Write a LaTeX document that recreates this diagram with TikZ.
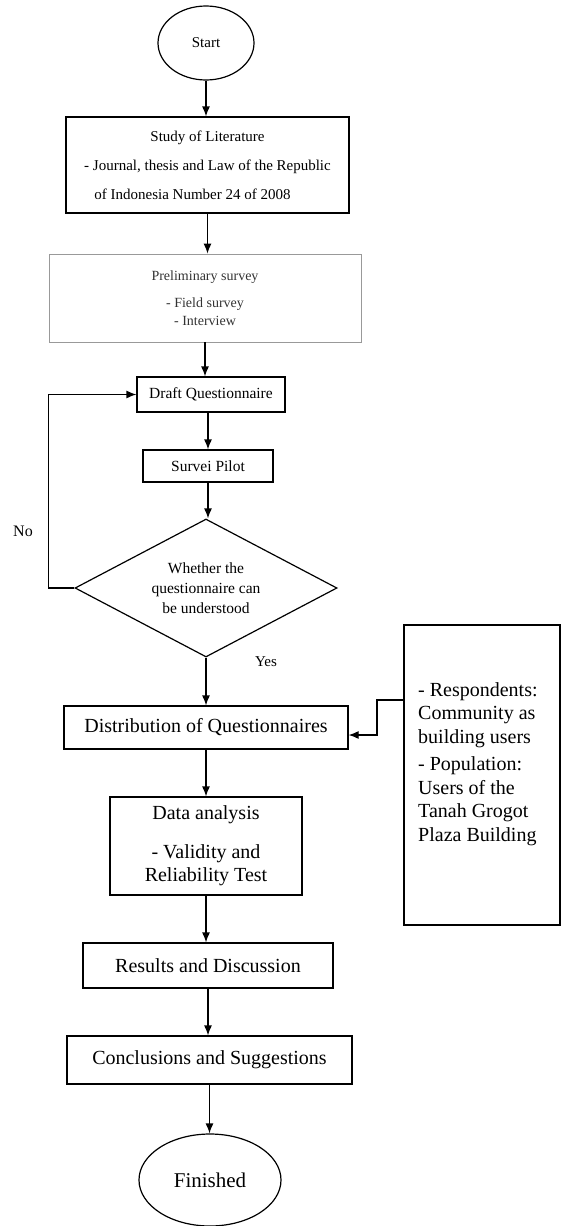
\documentclass[tikz,border=0pt]{standalone}
\usepackage{fontspec}
\setmainfont{Liberation Serif}
\usetikzlibrary{shapes.geometric, arrows.meta}

\begin{document}
\begin{tikzpicture}[x=1pt, y=-1pt,
        box/.style={draw, line width=1.2pt, rectangle, inner sep=0pt, align=center},
        term/.style={draw, line width=1.2pt, ellipse, inner sep=0pt},
        big/.style={font=\fontsize{20}{23.5}\selectfont},
        flow/.style={line width=1.2pt, -{Latex[length=10pt,width=8pt]}}]
        \useasboundingbox (0,0) rectangle (561,1226);

        \node[term, font=\fontsize{15}{18}\selectfont, minimum width=96pt, minimum height=74pt] (start) at (206,43) {Start};
        \node[box, font=\fontsize{15}{29}\selectfont, minimum width=283pt, minimum height=96pt] (study) at (207.5,165) {Study of Literature\\- Journal, thesis and Law of the Republic\\of Indonesia Number 24 of 2008\hspace*{30pt}};
        \node[box, draw=gray!80, line width=0.8pt, text=black!80, font=\fontsize{14}{18}\selectfont, minimum width=312pt, minimum height=88pt] (prelim) at (205,298) {Preliminary survey\\[9pt]- Field survey\\- Interview};
        \node[box, font=\fontsize{15.5}{18}\selectfont, minimum width=148pt, minimum height=35pt] (draft) at (211,394.5) {Draft Questionnaire};
        \node[box, font=\fontsize{15.5}{18}\selectfont, minimum width=130pt, minimum height=32pt] (pilot) at (208,466) {Survei Pilot};
        \node[draw, diamond, line width=1.2pt, aspect=1.9, inner sep=0pt, minimum width=262pt, minimum height=138pt, align=center, font=\fontsize{15.5}{20}\selectfont] (decide) at (206,588) {Whether the\\questionnaire can\\be understood};

        \node[box, big, minimum width=284pt, minimum height=43pt] (dist) at (206,727.5) {Distribution of Questionnaires};
        \node[box, big, minimum width=192pt, minimum height=98pt] (analysis) at (206,846) {Data analysis\\[15pt]- Validity and\\Reliability Test};
        \node[box, big, minimum width=250pt, minimum height=45pt] (results) at (208,965.5) {Results and Discussion};
        \node[box, big, minimum width=285pt, minimum height=48pt] (concl) at (209.5,1060) {Conclusions and Suggestions};
        \node[term, font=\fontsize{21}{24}\selectfont, minimum width=142pt, minimum height=92pt] (finish) at (210,1180) {Finished};

        % respondents and population
        \node[box, minimum width=156pt, minimum height=300pt] (info) at (482,775) {};
        \node[big, align=left, inner sep=0pt, anchor=north west] (infotext) at (418,682) {- Respondents:\\Community as\\building users\\[4pt]- Population:\\Users of the\\Tanah Grogot\\Plaza Building};
        \coordinate (infoout) at (404,700);

        \node[font=\fontsize{16}{18}\selectfont] (no) at (23,531) {No};
        \node[font=\fontsize{15}{18}\selectfont] (yes) at (266,662) {Yes};

        \draw[flow] (start.south) -- (start.south |- study.north);
        \draw[flow] (study.south) -- (study.south |- prelim.north);
        \draw[flow] (prelim.south) -- (prelim.south |- draft.north);
        \draw[flow] (pilot.north |- draft.south) -- (pilot.north);
        \draw[flow] (pilot.south) -- (pilot.south |- decide.north);
        \draw[flow] (decide.west) -- ++(-26,0) |- (draft.west);
        \draw[flow] (decide.south) -- (decide.south |- dist.north);

        \draw[flow] (infoout) -- ++(-27,0) |- ([yshift=-7.5pt]dist.east);
        \draw[flow] (dist.south) -- (dist.south |- analysis.north);
        \draw[flow] (analysis.south) -- (analysis.south |- results.north);
        \draw[flow] (results.south) -- (results.south |- concl.north);
        \draw[flow] (concl.south) -- (concl.south |- finish.north);
\end{tikzpicture}
\end{document}
